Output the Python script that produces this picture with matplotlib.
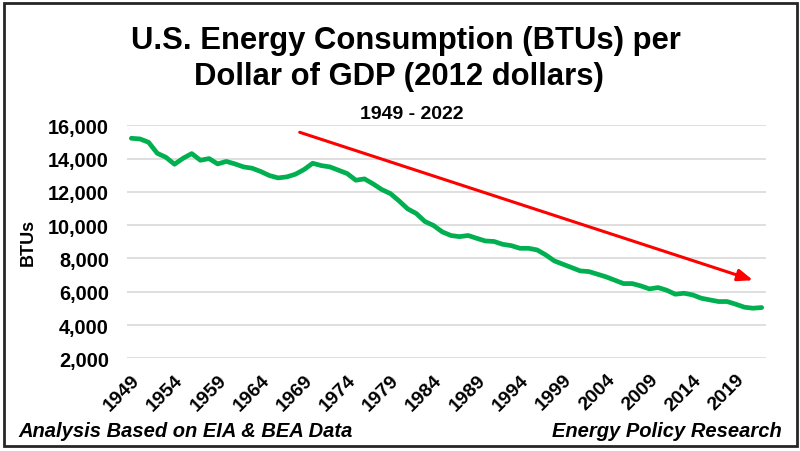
import matplotlib
matplotlib.use('Agg')
import matplotlib.pyplot as plt
from matplotlib.patches import Rectangle

plt.rcParams['font.family'] = ['Liberation Sans', 'DejaVu Sans']
plt.rcParams['font.weight'] = 'bold'

# BTUs per dollar of GDP (2012 dollars)
years = list(range(1949, 2023))
btus = [15220, 15180, 14980, 14320, 14080, 13660, 14020, 14300, 13900, 14000,
        13680, 13830, 13680, 13500, 13420, 13220, 12980, 12840, 12900, 13060,
        13340, 13720, 13580, 13500, 13300, 13100, 12700, 12780, 12480, 12140,
        11900, 11460, 10980, 10700, 10220, 9980, 9600, 9380, 9310, 9380,
        9210, 9050, 9020, 8850, 8770, 8610, 8610, 8510, 8210, 7850,
        7650, 7450, 7250, 7210, 7050, 6890, 6690, 6490, 6490, 6350,
        6170, 6250, 6090, 5850, 5910, 5810, 5610, 5510, 5410, 5410,
        5250, 5070, 5010, 5050]
tick_years = list(range(1949, 2020, 5))
y_ticks = list(range(2000, 16001, 2000))

# trend arrow (year, BTUs)
arrow_start = (1968.5, 15580)
arrow_end = (2021.0, 6690)

fig = plt.figure(figsize=(8, 4.52), dpi=100)
ax = fig.add_axes([127 / 800, 1 - 359.3 / 452, 639 / 800, 233 / 452])

ax.plot(years, btus, color='#00B050', linewidth=3.4, solid_capstyle='round', zorder=3)
ax.annotate('', xy=arrow_end, xytext=arrow_start,
            arrowprops=dict(arrowstyle='-|>,head_length=0.9,head_width=0.35',
                            color='#FF0000', lw=2.2, shrinkA=0, shrinkB=0),
            zorder=4)

ax.set_xlim(1948.5, 2022.5)
ax.set_ylim(2000, 16000)
ax.set_yticks(y_ticks)
ax.set_yticklabels([f'{v:,}' for v in y_ticks], fontsize=14.3, fontweight='bold')
ax.set_xticks(tick_years)
ax.set_xticklabels([str(y) for y in tick_years], fontsize=14, fontweight='bold',
                   rotation=45, ha='right', va='top', rotation_mode='anchor')
ax.tick_params(axis='both', length=0)
ax.tick_params(axis='y', pad=13)
ax.tick_params(axis='x', pad=9)
ax.grid(axis='y', color='#D9D9D9', linewidth=1.2)
ax.set_axisbelow(True)
for s in ax.spines.values():
    s.set_visible(False)
ax.set_ylabel('BTUs', fontsize=13, fontweight='bold')
ax.yaxis.set_label_coords(-0.141, 0.5)

fig.text(0.507, 1 - 49 / 452, 'U.S. Energy Consumption (BTUs) per', ha='center',
         va='baseline', fontsize=22.3, fontweight='bold')
fig.text(0.499, 1 - 85 / 452, 'Dollar of GDP (2012 dollars)', ha='center',
         va='baseline', fontsize=22.3, fontweight='bold')
fig.text(0.515, 1 - 119 / 452, '1949 - 2022', ha='center', va='baseline',
         fontsize=14, fontweight='bold')

fig.text(18 / 800, 1 - 437 / 452, 'Analysis Based on EIA & BEA Data', ha='left',
         va='baseline', fontsize=14.5, fontweight='bold', style='italic')
fig.text(782 / 800, 1 - 437 / 452, 'Energy Policy Research', ha='right',
         va='baseline', fontsize=14.5, fontweight='bold', style='italic')

fig.patches.append(Rectangle((4 / 800, 1 - 447 / 452), 793 / 800, 443 / 452,
                             transform=fig.transFigure, fill=False,
                             edgecolor='#262626', linewidth=2))

fig.savefig('out.png', dpi=100)
